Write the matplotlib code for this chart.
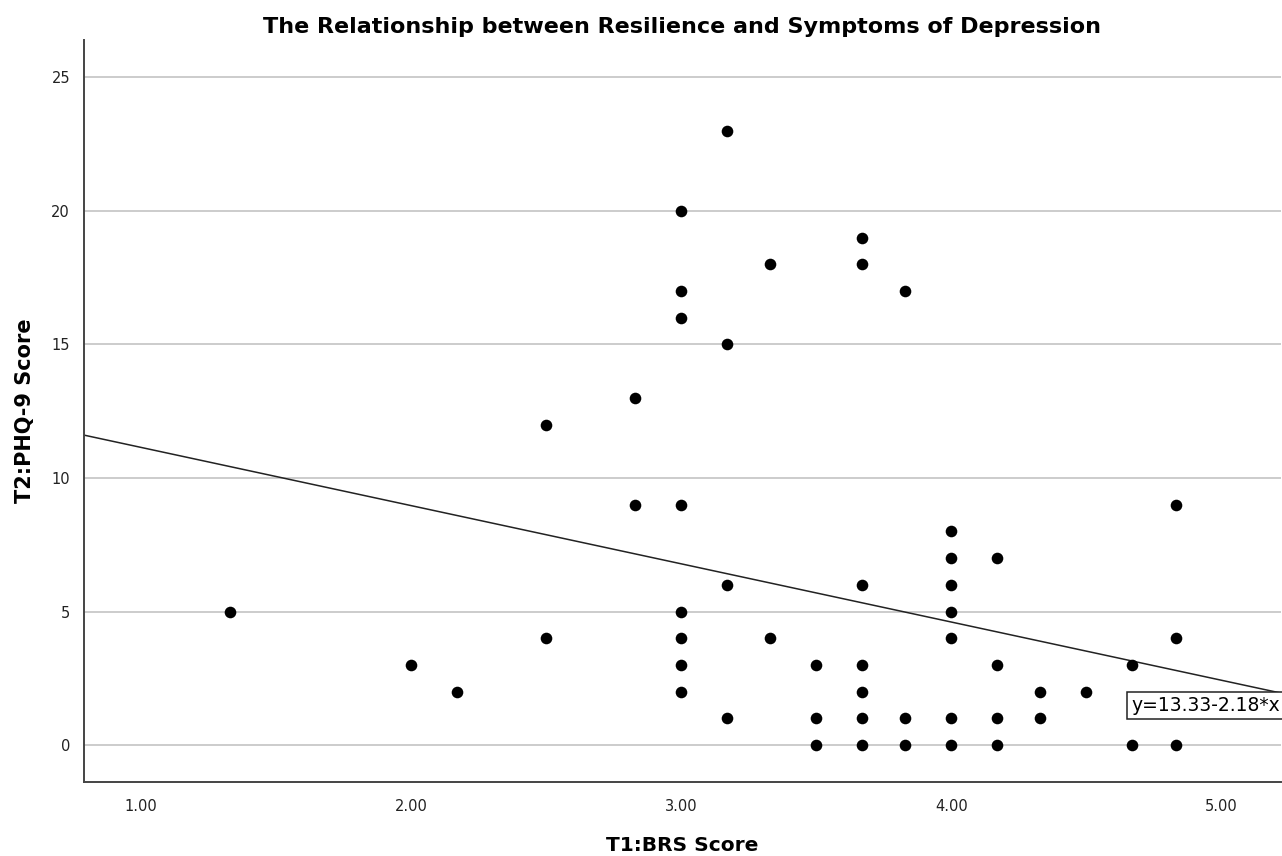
import matplotlib.pyplot as plt
import numpy as np

# Данные: T1 BRS (x) и T2 PHQ-9 (y)
brs = [1.33, 2.00, 2.17, 2.50, 2.50, 2.83, 2.83,
       3.00, 3.00, 3.00, 3.00, 3.00, 3.00, 3.00, 3.00,
       3.17, 3.17, 3.17, 3.17, 3.33, 3.33,
       3.50, 3.50, 3.50,
       3.67, 3.67, 3.67, 3.67, 3.67, 3.67, 3.67,
       3.83, 3.83, 3.83,
       4.00, 4.00, 4.00, 4.00, 4.00, 4.00, 4.00,
       4.17, 4.17, 4.17, 4.17, 4.33, 4.33, 4.50,
       4.67, 4.67, 4.83, 4.83, 4.83]
phq = [5, 3, 2, 12, 4, 13, 9,
       20, 17, 16, 9, 5, 4, 3, 2,
       23, 15, 6, 1, 18, 4,
       3, 1, 0,
       19, 18, 6, 3, 2, 1, 0,
       17, 1, 0,
       8, 7, 6, 5, 4, 1, 0,
       7, 3, 1, 0, 2, 1, 2,
       3, 0, 9, 4, 0]

# Линия регрессии (как на рисунке)
intercept = 13.33
slope = -2.18
fit_label = 'y=13.33-2.18*x'

x_ticks = [1.0, 2.0, 3.0, 4.0, 5.0]
y_ticks = [0, 5, 10, 15, 20, 25]

fig = plt.figure(figsize=(12.82, 8.56), dpi=100)
ax = fig.add_axes([0.0655, 0.0864, 0.9337, 0.8669])

xmin, xmax = 0.79, 5.22
ax.set_xlim(xmin, xmax)
ax.set_ylim(-1.38, 26.4)

ax.grid(True, axis='y', color='#c8c8c8', linewidth=1.3)
ax.set_axisbelow(True)

ax.scatter(brs, phq, s=70, color='black', zorder=3, linewidths=0)

xl = np.array([xmin, xmax])
ax.plot(xl, intercept + slope * xl, color='#222222', linewidth=1.1, zorder=2)

ax.text(xmax - 0.003, intercept + slope * xmax - 0.12, fit_label, ha='right', va='top',
        fontsize=13.5, zorder=4,
        bbox=dict(boxstyle='square,pad=0.22', facecolor='white', edgecolor='#222222', linewidth=1.1))

ax.set_xticks(x_ticks)
ax.set_xticklabels(['%.2f' % t for t in x_ticks])
ax.set_yticks(y_ticks)
ax.tick_params(length=0, labelsize=10.5, colors='#222222', pad=12)
ax.tick_params(axis='y', pad=10)

for s in ['top', 'right']:
    ax.spines[s].set_visible(False)
for s in ['left', 'bottom']:
    ax.spines[s].set_color('#444444')
    ax.spines[s].set_linewidth(1.4)

ax.set_title('The Relationship between Resilience and Symptoms of Depression',
             fontsize=16, fontweight='bold', pad=5)
ax.set_xlabel('T1:BRS Score', fontsize=14.5, fontweight='bold', labelpad=16)
ax.set_ylabel('T2:PHQ-9 Score', fontsize=15, fontweight='bold', labelpad=12)

fig.savefig('out.png', dpi=100)
